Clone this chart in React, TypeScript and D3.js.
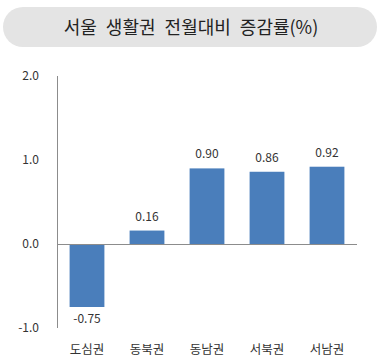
import React from "react";
import * as d3 from "d3";

const categories = ["도심권", "동북권", "동남권", "서북권", "서남권"];
const values = [-0.75, 0.16, 0.9, 0.86, 0.92];
const yTicks = [-1, 0, 1, 2];
const title = "서울 생활권 전월대비 증감률(%)";

const W = 382;
const H = 360;
const FONT = "'Noto Sans CJK KR', 'Noto Sans', sans-serif";

const locale = d3.formatLocale({ decimal: ".", thousands: ",", grouping: [3], currency: ["", ""], minus: "-" });
const fmt1 = locale.format(".1f");
const fmt2 = locale.format(".2f");

export default function App() {
  const x = d3.scaleBand<string>().domain(categories).range([57, 357]).paddingInner(0.42).paddingOuter(0.21);
  const y = d3.scaleLinear().domain([-1, 2]).range([328, 76]);
  const bw = x.bandwidth();
  return (
    <svg width={W} height={H} style={{ position: "absolute", left: 0, top: 0, background: "#fff" }}>
      <rect x={3} y={7} width={374} height={40} rx={20} ry={20} fill="#e4e4e4" />
      <text x={191} y={34} textAnchor="middle" fontFamily={FONT} fontSize={18} fill="#222" wordSpacing={5}>
        {title}
      </text>
      {yTicks.map((t) => (
        <text key={t} x={39} y={y(t) + 4} textAnchor="end" fontFamily={FONT} fontSize={12} fill="#333">
          {fmt1(t)}
        </text>
      ))}
      <line x1={57.5} x2={57.5} y1={y(2)} y2={y(-1)} stroke="#8c8c8c" strokeWidth={1} />
      {categories.map((c, i) => {
        const v = values[i];
        const y0 = y(0);
        const y1 = y(v);
        return (
          <g key={c}>
            <rect x={x(c)} y={Math.min(y0, y1)} width={bw} height={Math.abs(y1 - y0)} fill="#4a7ebb" />
            <text
              x={(x(c) as number) + bw / 2}
              y={v >= 0 ? y1 - 10 : y1 + 16}
              textAnchor="middle"
              fontFamily={FONT}
              fontSize={12}
              fill="#333"
            >
              {fmt2(v)}
            </text>
            <text
              x={(x(c) as number) + bw / 2}
              y={354}
              textAnchor="middle"
              fontFamily={FONT}
              fontSize={12.5}
              fill="#333"
            >
              {c}
            </text>
          </g>
        );
      })}
      <line x1={57} x2={357} y1={y(0) + 0.5} y2={y(0) + 0.5} stroke="#8c8c8c" strokeWidth={1} />
    </svg>
  );
}
